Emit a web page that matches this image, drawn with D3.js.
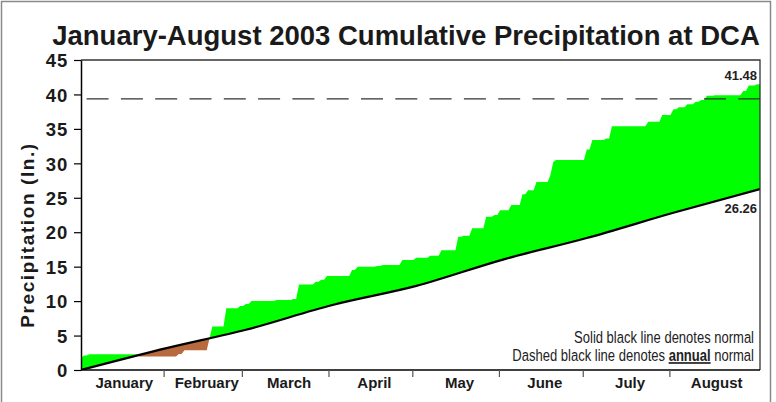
<!DOCTYPE html>
<html><head><meta charset="utf-8">
<script src="https://cdn.jsdelivr.net/npm/d3@7"></script>
<style>
body{margin:0;background:#fff}
svg{display:block}
text{font-family:"Liberation Sans", Arial, Helvetica, sans-serif;}
</style>
</head><body>
<svg id="chart" width="776" height="402"></svg>
<script>
// ---------------- data ----------------
const months = ["January","February","March","April","May","June","July","August"];
// month boundaries, in days since Jan 1
const monthBoundaries = [0,31,59,90,120,151,181,212,243];
// normal cumulative precipitation at month boundaries (in.)
const normalDays   = [0,31,59,90,120,151,181,212,243];
const normalTotals = [0,3.21,5.84,9.44,12.21,16.03,19.16,22.82,26.26];
const annualNormal = 39.35;
// observed 2003 cumulative precipitation (day on which each new total is reached)
const obsDays = [0,1,3,20,21,35,37,46,47,52,57,59,61,70,76,78,84,86,88,97,99,106,108,115,120,125,129,135,137,140,145,148,150,154,158,160,163,168,169,170,181,183,188,190,203,208,212,214,217,220,222,224,227,237,239,242,243];
const obsTotals = [1.70,2.10,2.30,2.30,1.95,2.32,2.85,4.60,6.30,8.95,9.29,9.58,10.00,10.15,10.30,12.40,12.82,13.10,13.64,14.50,15.00,15.10,15.25,15.97,16.30,16.60,17.40,19.35,19.50,20.57,22.25,22.50,23.20,23.95,25.50,26.10,27.30,28.30,30.20,30.50,32.00,33.40,33.60,35.40,36.05,37.00,37.84,38.13,38.57,38.95,39.20,39.80,39.90,40.50,41.30,41.48,41.48];
const yTicks = [0,5,10,15,20,25,30,35,40,45];
const titleText = "January-August 2003 Cumulative Precipitation at DCA";
const yLabel = "Precipitation (In.)";
const endObsLabel = "41.48";
const endNormalLabel = "26.26";

// ---------------- layout ----------------
const L = 81, R = 760, T = 60, B = 370;
const svg = d3.select("#chart");
const x = d3.scaleLinear().domain([0,243]).range([L,R]);
const y = d3.scaleLinear().domain([0,45]).range([B,T]);
const normCurve = d3.curveMonotoneX;

// outer frame
svg.append("rect").attr("x",1.5).attr("y",1.5).attr("width",769).attr("height",420)
  .attr("fill","none").attr("stroke","#8a8a8a").attr("stroke-width",1.5);

// step points for observed (held flat between reports)
const obsPts = [];
obsDays.forEach((d,i)=>{
  if(i>0 && d-1 > obsDays[i-1]) obsPts.push([d-1, obsTotals[i-1]]);
  obsPts.push([d, obsTotals[i]]);
});
const normPts = normalDays.map((d,i)=>[d, normalTotals[i]]);

const defs = svg.append("defs");
defs.append("clipPath").attr("id","plotClip").append("rect")
  .attr("x",L).attr("y",T).attr("width",R-L).attr("height",B-T);
defs.append("clipPath").attr("id","aboveNormal").append("path")
  .attr("d", d3.area().curve(normCurve).x(d=>x(d[0])).y0(y(45)).y1(d=>y(d[1]))(normPts));
defs.append("clipPath").attr("id","belowNormal").append("path")
  .attr("d", d3.area().curve(normCurve).x(d=>x(d[0])).y0(y(0)).y1(d=>y(d[1]))(normPts));

const plot = svg.append("g").attr("clip-path","url(#plotClip)");
plot.append("g").attr("clip-path","url(#aboveNormal)").append("path")
  .attr("d", d3.area().x(d=>x(d[0])).y0(y(0)).y1(d=>y(d[1]))(obsPts))
  .attr("fill","#00ff00");
plot.append("g").attr("clip-path","url(#belowNormal)").append("path")
  .attr("d", d3.area().x(d=>x(d[0])).y0(y(45)).y1(d=>y(d[1]))(obsPts))
  .attr("fill","#b8693d");

// annual normal dashed line
plot.append("line").attr("x1",L).attr("x2",R).attr("y1",y(annualNormal)).attr("y2",y(annualNormal))
  .attr("stroke","#333").attr("stroke-width",1.3)
  .attr("stroke-dasharray","22 12.3").attr("stroke-dashoffset",28.7);

// normal line
plot.append("path").attr("d", d3.line().curve(normCurve).x(d=>x(d[0])).y(d=>y(d[1]))(normPts))
  .attr("fill","none").attr("stroke","#000").attr("stroke-width",2.2);

// plot border (top / right)
svg.append("path").attr("d",`M${L},${T}H${R}V${B}`).attr("fill","none")
  .attr("stroke","#333").attr("stroke-width",1.3);

// y axis
const yAxis = svg.append("g").attr("transform",`translate(${L},0)`)
  .call(d3.axisLeft(y).tickValues(yTicks).tickSize(7).tickSizeOuter(0).tickPadding(6));
yAxis.select(".domain").attr("stroke","#000").attr("stroke-width",1.5);
yAxis.selectAll(".tick line").attr("stroke","#000").attr("stroke-width",1.2);
yAxis.selectAll(".tick text").attr("font-family",'"Liberation Sans", Arial, sans-serif')
  .attr("font-size",18.5).attr("font-weight","bold").attr("fill","#1a1a1a")
  .attr("letter-spacing",0.8).attr("dy","0.36em");

// x axis
svg.append("line").attr("x1",L).attr("x2",R).attr("y1",B).attr("y2",B)
  .attr("stroke","#000").attr("stroke-width",1.5);
const xAxis = svg.append("g").attr("transform",`translate(-4,${B})`)
  .call(d3.axisBottom(x).tickValues(monthBoundaries.slice(1,-1)).tickFormat("").tickSize(7).tickSizeOuter(0));
xAxis.select(".domain").remove();
xAxis.selectAll(".tick line").attr("stroke","#555").attr("stroke-width",1.2);
svg.append("g").selectAll("text").data(months).join("text")
  .attr("x",(m,i)=>x((monthBoundaries[i]+monthBoundaries[i+1])/2))
  .attr("y",388).attr("text-anchor","middle")
  .attr("font-size",15).attr("font-weight","bold").attr("fill","#1a1a1a")
  .text(d=>d);

// end labels
svg.append("text").attr("x",757).attr("y",80).attr("text-anchor","end")
  .attr("font-size",13).attr("font-weight","bold").attr("fill","#222").text(endObsLabel);
svg.append("text").attr("x",757).attr("y",213).attr("text-anchor","end")
  .attr("font-size",13).attr("font-weight","bold").attr("fill","#222").text(endNormalLabel);

// title
svg.append("text").attr("x",406).attr("y",45).attr("text-anchor","middle")
  .attr("font-size",27.5).attr("font-weight","bold").attr("fill","#1a1a1a").text(titleText);

// y label
svg.append("text").attr("transform","translate(34,235) rotate(-90)").attr("text-anchor","middle")
  .attr("font-size",19).attr("font-weight","bold").attr("fill","#1a1a1a")
  .attr("letter-spacing",1.6).text(yLabel);

// legend notes (narrow text fitted to width)
function fitRight(sel, targetW, ax, ay){
  const w = sel.node().getBBox().width;
  sel.attr("transform",`translate(${ax},${ay}) scale(${targetW/w},1)`);
}
const n1 = svg.append("text").attr("text-anchor","end").attr("font-size",17).attr("fill","#222")
  .text("Solid black line denotes normal");
fitRight(n1, 180, 754, 343);
const n2 = svg.append("text").attr("text-anchor","end").attr("font-size",17).attr("fill","#222");
n2.append("tspan").text("Dashed black line denotes ");
n2.append("tspan").attr("font-weight","bold").attr("text-decoration","underline").text("annual");
n2.append("tspan").text(" normal");
fitRight(n2, 242, 754, 361);
</script>
</body></html>
